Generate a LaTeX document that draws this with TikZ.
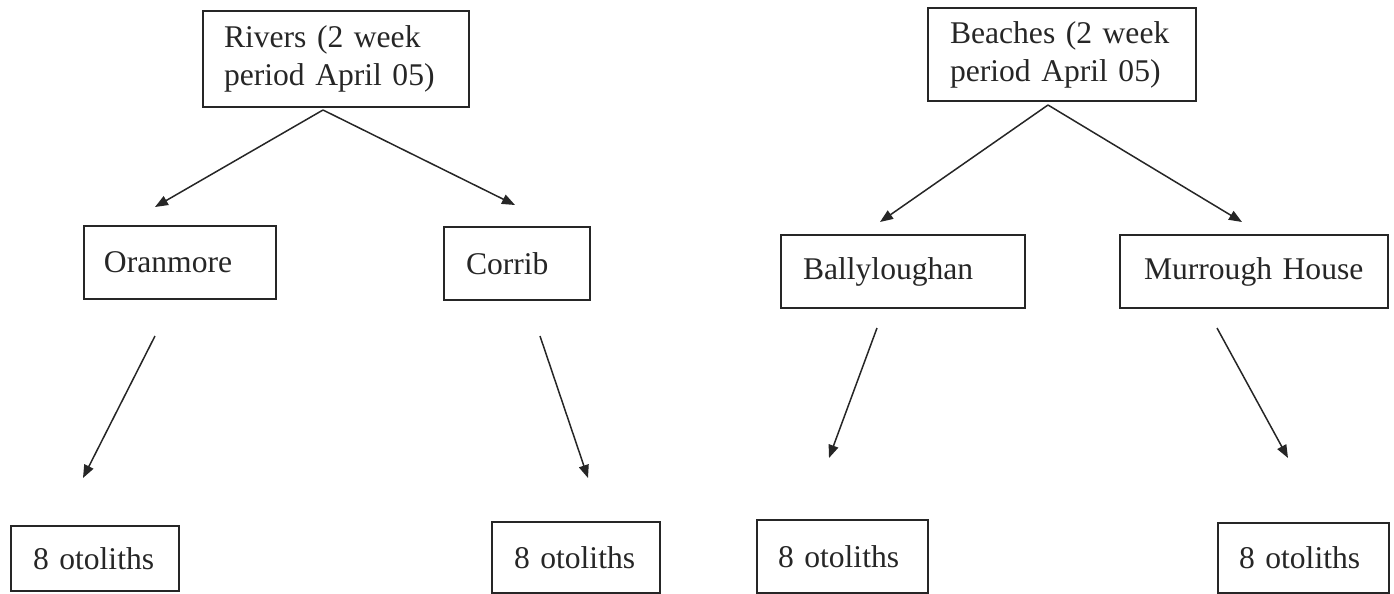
\documentclass[tikz,border=0pt]{standalone}
\usepackage{fontspec}
\setmainfont{Liberation Serif}
\usetikzlibrary{arrows.meta}
\tikzset{
  box/.style={draw, line width=1pt, anchor=north west, align=left,
    inner ysep=0pt, font=\fontsize{15.8pt}{19pt}\selectfont},
}
\begin{document}
\begin{tikzpicture}[x=0.5pt, y=-0.5pt, line width=0.75pt, black!85]
      \useasboundingbox (0,0) rectangle (1394,594);
      \draw
        (202,10) node[box, inner xsep=10.5pt, text width=112pt, minimum height=48pt] (rivers){Rivers (2 week\\period April 05)}
        (927,7) node[box, inner xsep=11pt, text width=112pt, minimum height=46.5pt] (beaches){Beaches (2 week\\period April 05)}
        (83,225) node[box, inner xsep=10pt, text width=76pt, minimum height=36.5pt] (oranmore){Oranmore}
        (443,226) node[box, inner xsep=11pt, text width=51pt, minimum height=36.5pt] (corrib){Corrib}
        (780,234) node[box, inner xsep=11pt, text width=100pt, minimum height=36.5pt] (bally){Ballyloughan}
        (1119,234) node[box, inner xsep=12pt, text width=110pt, minimum height=36.5pt] (murrough){Murrough House}
        (10,525) node[box, inner xsep=11pt, text width=62pt, minimum height=32.5pt] (oto1){8 otoliths}
        (491,521) node[box, inner xsep=11pt, text width=62pt, minimum height=35.5pt] (oto2){8 otoliths}
        (756,519) node[box, inner xsep=10.5pt, text width=64.5pt, minimum height=36.5pt] (oto3){8 otoliths}
        (1217,522) node[box, inner xsep=10.5pt, text width=64.5pt, minimum height=35pt] (oto4){8 otoliths};
      % free arrow ends
      \coordinate (rivers-out) at (323,110);
      \coordinate (oranmore-in) at (155,207);
      \coordinate (corrib-in) at (515,205);
      \coordinate (beaches-out) at (1048,105);
      \coordinate (bally-in) at (880,222);
      \coordinate (murrough-in) at (1242,222);
      \coordinate (oranmore-out) at (155,336);
      \coordinate (oto1-in) at (83,478);
      \coordinate (corrib-out) at (540,336);
      \coordinate (oto2-in) at (588,478);
      \coordinate (bally-out) at (877,328);
      \coordinate (oto3-in) at (829,458);
      \coordinate (murrough-out) at (1217,328);
      \coordinate (oto4-in) at (1288,458);
      \begin{scope}[-{Triangle[length=6.5pt,width=5pt]}]
        \draw (rivers-out) to (oranmore-in);
        \draw (rivers-out) to (corrib-in);
        \draw (beaches-out) to (bally-in);
        \draw (beaches-out) to (murrough-in);
        \draw (oranmore-out) to (oto1-in);
        \draw (corrib-out) to (oto2-in);
        \draw (bally-out) to (oto3-in);
        \draw (murrough-out) to (oto4-in);
      \end{scope}
    \end{tikzpicture}
\end{document}
